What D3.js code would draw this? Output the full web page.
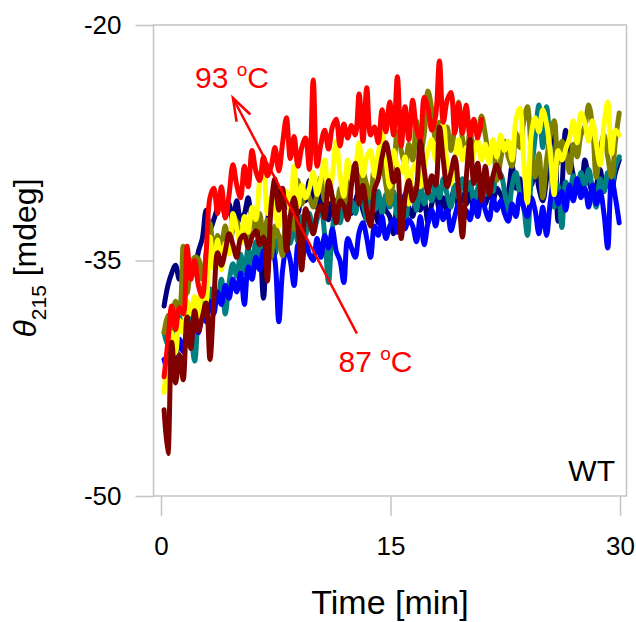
<!DOCTYPE html>
<html>
<head>
<meta charset="utf-8">
<script src="https://cdn.jsdelivr.net/npm/d3@7"></script>
<style>
  body { margin: 0; background: #fff; }
  text { font-family: "Liberation Sans", Arial, sans-serif; }
</style>
</head>
<body>
<script>
// sampling grid of the CD traces (min)
var tStart = 0.2;
var tStep = 0.25;

var xTicks = [0, 15, 30];
var yTicks = [-50, -35, -20];

var seriesNames = ["87", "88", "89", "90", "91", "92", "93"];
var seriesColors = ["#000080", "#008080", "#0000ff", "#808000", "#ffff00", "#ff0000", "#800000"];

var navy = [
  -37.9, -36.6, -35.8, -35.3, -36.2, -35.6, -36.0, -35.2, -35.6, -34.4,
  -33.6, -31.8, -33.0, -32.4, -31.6, -30.9, -32.2, -31.4, -32.6, -31.2,
  -32.4, -32.0, -31.0, -32.6, -31.8, -33.6, -37.4, -32.8, -31.1, -31.8,
  -30.8, -30.5, -31.6, -30.8, -31.4, -32.0, -30.6, -31.2, -29.9, -30.8,
  -31.6, -30.6, -31.8, -32.4, -31.0, -31.6, -32.2, -30.8, -31.4, -32.0,
  -31.2, -30.6, -31.8, -32.4, -30.8, -31.6, -32.6, -31.2, -31.8, -32.2,
  -33.3, -31.6, -32.0, -30.8, -31.6, -32.2, -31.0, -31.8, -31.2, -32.6,
  -31.4, -30.6, -31.8, -31.0, -32.0, -31.2, -30.4, -31.6, -30.8, -31.4,
  -30.6, -31.8, -31.0, -30.2, -31.4, -30.6, -31.2, -30.4, -30.8, -31.2,
  -30.6, -29.0, -30.4, -29.8, -30.8, -29.6, -30.2, -29.1, -30.4, -31.2,
  -29.8, -27.6, -26.2, -32.5, -30.4, -26.7, -28.2, -29.6, -30.6, -30.4,
  -28.6, -29.8, -30.6, -30.2, -29.2, -30.6, -29.8, -30.4, -29.4, -28.6
];

var teal = [
  -39.6, -40.4, -39.0, -39.8, -38.6, -39.4, -38.2, -39.6, -41.4, -38.5,
  -37.4, -38.6, -36.8, -37.8, -37.5, -36.2, -38.4, -36.4, -35.2, -36.0,
  -34.6, -35.8, -34.2, -35.4, -33.8, -34.9, -33.6, -34.4, -33.2, -34.6,
  -33.4, -34.4, -32.6, -33.9, -32.8, -33.8, -32.2, -33.4, -32.0, -33.2,
  -32.4, -31.6, -33.4, -36.4, -33.0, -31.8, -32.6, -31.5, -32.3, -31.2,
  -32.0, -31.0, -31.4, -32.4, -31.0, -31.8, -30.6, -32.0, -30.8, -31.6,
  -30.6, -32.2, -31.4, -32.8, -31.0, -30.4, -31.8, -30.2, -31.4, -30.6,
  -31.2, -30.0, -31.0, -29.8, -30.8, -31.6, -30.2, -31.0, -29.8, -30.6,
  -30.0, -31.2, -30.4, -29.6, -30.8, -29.8, -30.6, -29.4, -29.5, -30.6,
  -32.0, -30.2, -29.4, -30.8, -31.6, -33.4, -29.6, -27.2, -25.1, -27.8,
  -25.2, -28.4, -31.6, -30.2, -32.9, -30.0, -30.8, -29.6, -30.4, -29.4,
  -30.2, -29.2, -30.4, -31.6, -29.8, -30.6, -29.4, -30.2, -29.0, -28.4
];

var blue = [
  -41.3, -42.0, -40.6, -41.2, -40.0, -40.8, -39.4, -40.2, -38.8, -39.6,
  -38.2, -38.9, -37.6, -38.4, -37.0, -37.8, -36.6, -37.4, -36.2, -37.0,
  -35.8, -37.8, -35.4, -36.2, -34.8, -35.6, -34.4, -35.4, -34.0, -35.0,
  -38.9, -35.6, -34.2, -35.0, -36.6, -34.0, -35.2, -33.8, -34.6, -35.0,
  -33.6, -34.8, -33.4, -34.2, -33.0, -34.4, -35.0, -36.4, -33.6, -34.2,
  -34.8, -33.2, -32.6, -33.6, -34.8, -32.8, -33.4, -32.2, -33.6, -32.8,
  -32.4, -33.2, -32.0, -33.0, -32.4, -32.8, -33.8, -32.2, -34.0, -32.6,
  -31.8, -32.8, -31.6, -32.4, -31.8, -33.1, -32.2, -31.4, -32.6, -31.8,
  -32.4, -31.2, -32.2, -30.8, -31.8, -32.4, -31.0, -31.8, -31.2, -32.0,
  -32.5, -31.4, -32.2, -30.8, -31.6, -32.2, -31.0, -31.8, -33.3, -31.6,
  -33.4, -31.2, -29.8, -31.4, -30.6, -31.8, -30.2, -31.2, -29.8, -31.0,
  -30.4, -31.6, -30.2, -31.4, -30.6, -32.0, -34.2, -29.8, -31.0, -32.6
];

var olive = [
  -39.6, -38.5, -39.4, -37.6, -38.0, -34.1, -37.1, -35.5, -34.8, -34.9,
  -36.2, -34.6, -32.6, -34.5, -33.4, -33.9, -32.8, -34.2, -33.0, -32.5,
  -33.8, -32.6, -33.5, -31.8, -33.2, -32.0, -33.6, -32.4, -34.8, -32.8,
  -33.5, -34.7, -32.5, -32.2, -33.0, -29.9, -31.4, -30.6, -31.0, -31.6,
  -30.8, -29.7, -31.2, -30.0, -31.0, -32.2, -30.4, -31.4, -30.6, -29.2,
  -29.0, -30.6, -29.4, -30.2, -31.0, -29.1, -29.6, -28.8, -30.2, -31.4,
  -29.6, -26.8, -28.0, -28.9, -27.6, -28.6, -26.1, -28.2, -27.0, -24.2,
  -25.4, -27.3, -26.2, -27.8, -26.5, -28.0, -26.5, -24.9, -27.2, -28.3,
  -26.8, -28.0, -27.2, -25.8, -27.0, -28.4, -27.6, -29.9, -28.6, -27.4,
  -28.4, -29.0, -26.9, -27.8, -26.2, -25.2, -28.0, -29.7, -28.2, -31.0,
  -28.6, -27.0, -26.1, -28.8, -27.4, -28.0, -29.4, -27.6, -28.4, -27.0,
  -26.5, -25.1, -26.4, -29.7, -28.0, -27.0, -28.4, -29.7, -27.4, -25.6
];

var yellow = [
  -43.4, -41.0, -39.6, -40.9, -38.8, -39.6, -37.6, -38.4, -37.3, -38.6,
  -36.5, -37.6, -33.5, -35.5, -33.7, -35.6, -33.9, -34.6, -32.0, -33.0,
  -33.9, -32.2, -33.2, -31.6, -32.4, -29.9, -28.8, -32.0, -31.0, -31.9,
  -32.8, -31.5, -30.6, -31.8, -29.0, -31.6, -30.2, -31.0, -30.4, -29.4,
  -30.8, -29.8, -28.6, -31.1, -29.6, -27.4, -29.5, -30.9, -28.6, -29.9,
  -29.2, -27.5, -29.6, -28.4, -28.0, -29.6, -28.2, -26.9, -28.6, -30.3,
  -28.0, -29.0, -29.4, -28.4, -31.4, -29.2, -28.8, -30.3, -29.0, -28.0,
  -27.3, -28.6, -27.2, -26.3, -29.0, -30.1, -28.8, -27.3, -28.6, -27.8,
  -29.0, -28.2, -27.4, -28.6, -27.6, -28.8, -27.3, -28.4, -27.0, -28.0,
  -27.4, -28.6, -26.0, -25.3, -28.5, -31.3, -27.0, -25.9, -26.8, -25.4,
  -26.3, -28.2, -30.8, -28.0, -28.6, -27.9, -27.2, -26.1, -27.5, -25.6,
  -26.2, -27.4, -26.1, -27.6, -28.9, -26.4, -24.9, -28.2, -26.7, -27.0
];

var red = [
  -42.4, -40.2, -37.9, -39.4, -38.0, -38.4, -34.1, -36.2, -35.0, -36.6,
  -37.3, -34.5, -31.0, -30.4, -32.0, -30.3, -32.3, -30.8, -28.9, -30.2,
  -31.0, -29.0, -30.3, -28.0, -29.3, -29.9, -28.4, -29.6, -29.0, -27.8,
  -29.3, -27.5, -25.9, -28.5, -27.1, -29.0, -27.8, -27.2, -29.2, -23.5,
  -29.0, -27.6, -26.7, -27.9, -26.5, -26.0, -27.7, -26.3, -27.2, -26.4,
  -27.0, -24.4, -27.4, -24.0, -27.0, -26.5, -27.5, -25.4, -26.8, -24.9,
  -27.0, -23.3, -27.7, -25.2, -27.3, -24.8, -26.6, -27.3, -24.6, -25.3,
  -26.7, -25.8, -22.3, -26.2, -24.8, -24.3, -26.9, -25.0, -26.9, -25.1,
  -27.1, -26.0, -27.2, -26.0
];

var maroon = [
  -44.5, -47.3, -40.2, -42.8, -41.0, -42.6, -38.6, -40.6, -38.2, -39.5,
  -38.6, -37.7, -41.3, -37.6, -34.5, -35.3, -34.4, -33.3, -34.0, -34.8,
  -33.6, -33.4, -34.2, -33.5, -33.1, -34.0, -33.5, -36.3, -31.5, -29.8,
  -31.8, -30.4, -34.4, -32.2, -31.0, -32.8, -35.6, -31.7, -32.5, -33.3,
  -32.0, -31.5, -32.3, -29.9, -31.0, -32.6, -31.2, -31.5, -32.4, -30.2,
  -28.8, -31.4, -30.2, -31.8, -32.8, -30.5, -29.8, -28.4, -27.5, -28.6,
  -30.0, -29.2, -33.6, -31.0, -29.9, -31.2, -30.4, -27.4, -29.2, -30.7,
  -29.6, -30.2, -26.5, -28.6, -30.3, -29.4, -28.4, -30.6, -33.5, -29.8,
  -27.3, -30.1, -28.8, -31.2, -29.0, -30.8, -29.6, -28.9, -29.7
];

var seriesValues = [navy, teal, blue, olive, yellow, red, maroon];

var width = 636, height = 622;
var boxColor = "#c4c4c4";

var svg = d3
  .select("body")
  .append("svg")
  .attr("width", width)
  .attr("height", height);

var x = d3.scaleLinear().domain([0, 30]).range([161, 620]);
var y = d3.scaleLinear().domain([-50, -20]).range([496, 25]);

// frame
svg.append("rect")
  .attr("x", 153.5)
  .attr("y", y(-20))
  .attr("width", 626.5 - 153.5)
  .attr("height", y(-50) - y(-20))
  .attr("fill", "none")
  .attr("stroke", boxColor)
  .attr("stroke-width", 1.5);

var yAxis = svg.append("g")
  .attr("transform", "translate(153.5,0)")
  .call(d3.axisLeft(y).tickValues(yTicks).tickSize(18).tickPadding(14)
    .tickFormat(function(d) { return String(d); }));

var xAxis = svg.append("g")
  .attr("transform", "translate(0,496)")
  .call(d3.axisBottom(x).tickValues(xTicks).tickSize(20).tickPadding(21));

[yAxis, xAxis].forEach(function(a) {
  a.select(".domain").remove();
  a.selectAll(".tick line").attr("stroke", boxColor).attr("stroke-width", 1.5);
  a.selectAll(".tick text")
    .attr("fill", "#000")
    .style("font-family", "'Liberation Sans', Arial, sans-serif")
    .style("font-size", "26px");
});

// traces
var line = d3.line()
  .x(function(d, i) { return x(tStart + i * tStep); })
  .y(function(d) { return y(d); })
  .curve(d3.curveCatmullRom.alpha(0.5));

svg.append("g")
  .selectAll("path")
  .data(seriesValues)
  .enter()
  .append("path")
  .attr("d", function(d) { return line(d); })
  .attr("fill", "none")
  .attr("stroke", function(d, i) { return seriesColors[i]; })
  .attr("stroke-width", 5)
  .attr("stroke-linejoin", "round")
  .attr("stroke-linecap", "round")
  .attr("class", function(d, i) { return "t" + seriesNames[i]; });

// temperature arrow (87 -> 93)
var arrowFrom = [12.8, -39.65];
var arrowTo = [4.7, -24.65];
var x1 = x(arrowFrom[0]), y1 = y(arrowFrom[1]);
var x2 = x(arrowTo[0]), y2 = y(arrowTo[1]);
var ang = Math.atan2(y1 - y2, x1 - x2);
var wing = 24, spread = 0.33;

svg.append("line")
  .attr("x1", x1).attr("y1", y1)
  .attr("x2", x2).attr("y2", y2)
  .attr("stroke", "#ff0000")
  .attr("stroke-width", 2.5);

svg.append("path")
  .attr("d", "M" + (x2 + wing * Math.cos(ang - spread)) + "," + (y2 + wing * Math.sin(ang - spread)) +
    "L" + x2 + "," + y2 +
    "L" + (x2 + wing * Math.cos(ang + spread)) + "," + (y2 + wing * Math.sin(ang + spread)))
  .attr("fill", "none")
  .attr("stroke", "#ff0000")
  .attr("stroke-width", 2.5)
  .attr("stroke-linejoin", "miter");

function tempLabel(px, py, num) {
  var t = svg.append("text")
    .attr("x", px)
    .attr("y", py)
    .attr("fill", "#ff0000")
    .style("font-size", "30px");
  t.append("tspan").text(num + " ");
  t.append("tspan").attr("dy", -12).style("font-size", "19px").text("o");
  t.append("tspan").attr("dy", 12).text("C");
}
tempLabel(195, 88, "93");
tempLabel(338.5, 372, "87");

svg.append("text")
  .attr("x", 615)
  .attr("y", 481)
  .attr("text-anchor", "end")
  .style("font-size", "30px")
  .text("WT");

// axis titles
svg.append("text")
  .attr("x", 390)
  .attr("y", 614)
  .attr("text-anchor", "middle")
  .style("font-size", "34px")
  .text("Time [min]");

var yTitle = svg.append("text")
  .attr("transform", "translate(36,258) rotate(-90)")
  .attr("text-anchor", "middle")
  .style("font-size", "32px");
yTitle.append("tspan").style("font-style", "italic").text("\u03b8");
yTitle.append("tspan").attr("dy", 10).style("font-size", "21px").text("215");
yTitle.append("tspan").attr("dy", -10).text(" [mdeg]");
</script>
</body>
</html>
